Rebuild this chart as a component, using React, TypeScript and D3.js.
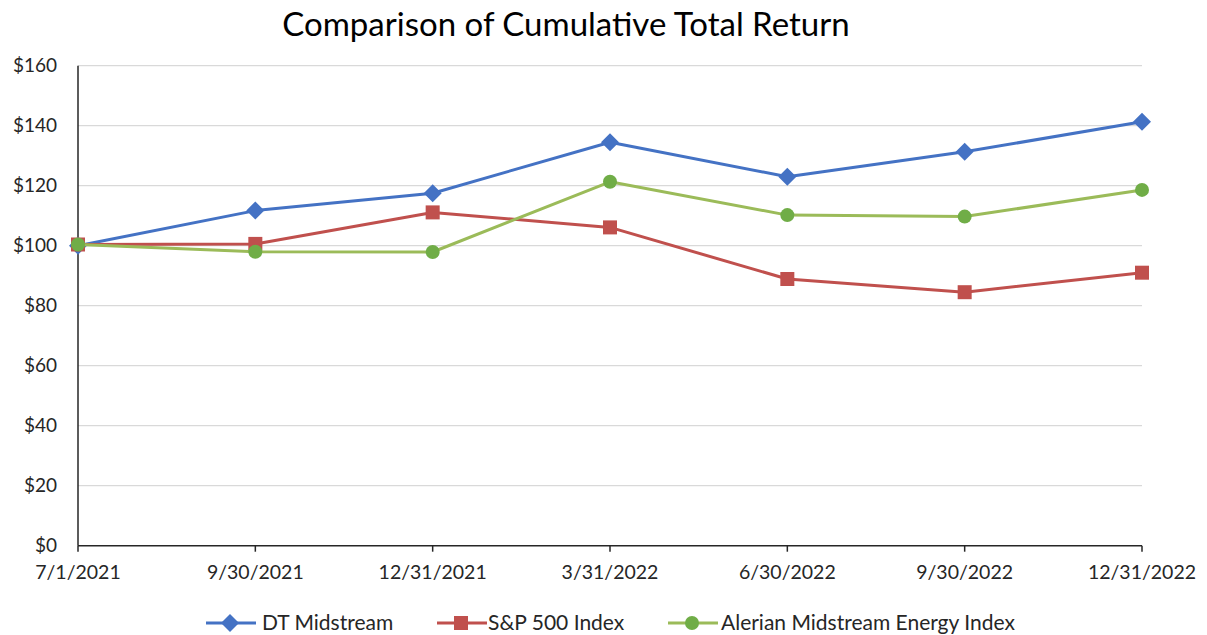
import React from "react";
import * as d3 from "d3";

const dates = ["7/1/2021", "9/30/2021", "12/31/2021", "3/31/2022", "6/30/2022", "9/30/2022", "12/31/2022"];
const dtMidstream = [100, 111.7, 117.5, 134.5, 123.0, 131.3, 141.3];
const sp500 = [100.4, 100.6, 111.1, 106.1, 88.9, 84.5, 91.0];
const alerian = [100.4, 98.0, 97.9, 121.3, 110.2, 109.7, 118.6];
const yTicks = [0, 20, 40, 60, 80, 100, 120, 140, 160];

const W = 1207, H = 635;
const FONT = "Lato, 'Open Sans', sans-serif";

type Series = { name: string; values: number[]; line: string; marker: string; shape: "diamond" | "square" | "circle" };
const series: Series[] = [
  { name: "DT Midstream", values: dtMidstream, line: "#4472C4", marker: "#4472C4", shape: "diamond" },
  { name: "S&P 500 Index", values: sp500, line: "#C0504D", marker: "#C0504D", shape: "square" },
  { name: "Alerian Midstream Energy Index", values: alerian, line: "#9BBB59", marker: "#70AD47", shape: "circle" },
];

function Marker({ shape, x, y, color }: { shape: string; x: number; y: number; color: string }) {
  if (shape === "diamond") {
    const r = 9;
    return <path d={`M${x},${y - r}L${x + r},${y}L${x},${y + r}L${x - r},${y}Z`} fill={color} />;
  }
  if (shape === "square") {
    const s = 14;
    return <rect x={x - s / 2} y={y - s / 2} width={s} height={s} fill={color} />;
  }
  return <circle cx={x} cy={y} r={7} fill={color} />;
}

export default function App() {
  const x = d3.scalePoint<string>().domain(dates).range([78, 1142]);
  const y = d3.scaleLinear().domain([0, 160]).range([545.7, 65.7]);
  const line = d3.line<number>().x((_, i) => x(dates[i])!).y((d) => y(d));
  const fmt = (v: number) => "$" + d3.format("d")(v);

  const legendItems = [
    { lx: 206, tx: 262 },
    { lx: 437, tx: 488 },
    { lx: 668, tx: 721 },
  ];

  return (
    <svg width={W} height={H} style={{ position: "absolute", left: 0, top: 0, background: "#fff" }} fontFamily={FONT}>
      <rect width={W} height={H} fill="#fff" />
      <text x={566} y={36} textAnchor="middle" fontSize={33} fill="#000">Comparison of Cumulative Total Return</text>
      {yTicks.filter((t) => t > 0).map((t) => (
        <line key={t} x1={78} x2={1142} y1={y(t)} y2={y(t)} stroke="#d9d9d9" strokeWidth={1.3} />
      ))}
      {yTicks.map((t) => (
        <text key={"l" + t} x={57} y={y(t)} dy="0.35em" textAnchor="end" fontSize={19} fill="#262626">{fmt(t)}</text>
      ))}
      <line x1={78} x2={78} y1={y(160)} y2={y(0)} stroke="#262626" strokeWidth={1.5} />
      <line x1={78} x2={1142} y1={y(0)} y2={y(0)} stroke="#262626" strokeWidth={1.5} />
      {dates.map((d) => (
        <g key={d}>
          <line x1={x(d)} x2={x(d)} y1={y(0)} y2={y(0) + 6} stroke="#262626" strokeWidth={1.5} />
          <text x={x(d)} y={579} textAnchor="middle" fontSize={19.5} fill="#262626">{d}</text>
        </g>
      ))}
      {series.map((s) => (
        <g key={s.name}>
          <path d={line(s.values)!} fill="none" stroke={s.line} strokeWidth={3} strokeLinejoin="round" />
          {s.values.map((v, i) => (
            <Marker key={i} shape={s.shape} x={x(dates[i])!} y={y(v)} color={s.marker} />
          ))}
        </g>
      ))}
      {series.map((s, i) => {
        const it = legendItems[i];
        return (
          <g key={"lg" + s.name}>
            <line x1={it.lx} x2={it.lx + 50} y1={623} y2={623} stroke={s.line} strokeWidth={3} />
            <Marker shape={s.shape} x={it.lx + 24} y={623} color={s.marker} />
            <text x={it.tx} y={623} dy="0.35em" fontSize={21} fill="#262626">{s.name}</text>
          </g>
        );
      })}
    </svg>
  );
}
